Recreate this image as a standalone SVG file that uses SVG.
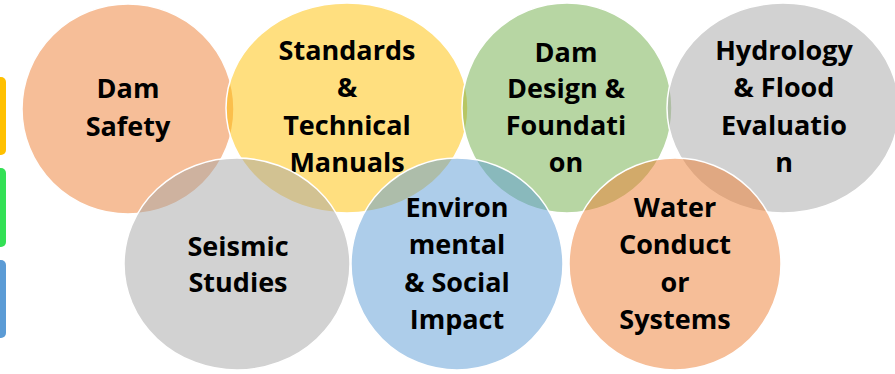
<svg xmlns="http://www.w3.org/2000/svg" width="895" height="374" viewBox="0 0 895 374">
<style>
.c{stroke:#ffffff;stroke-width:1.5;fill-opacity:0.5}
.t{font-family:"Open Sans","Liberation Sans",sans-serif;font-weight:700;font-size:27px;fill:#000000;text-anchor:middle}
</style>
<rect width="895" height="374" fill="#ffffff"/>
<g id="side-bars">
<rect x="-10" y="77" width="16" height="78" rx="5" fill="#FFC000"/>
<rect x="-10" y="168" width="16" height="79" rx="5" fill="#33E055"/>
<rect x="-10" y="260" width="16" height="78" rx="5" fill="#5B9BD5"/>
</g>
<g id="connectors"></g>
<g id="dam-safety">
<ellipse class="c" cx="128" cy="109" rx="106" ry="105" fill="#ED7D31"/>
<text class="t" x="128" y="98">Dam</text>
<text class="t" x="128" y="136">Safety</text>
</g>
<g id="standards">
<ellipse class="c" cx="347" cy="108" rx="121" ry="105" fill="#FFC000"/>
<text class="t" x="347" y="60">Standards</text>
<text class="t" x="347" y="97">&amp;</text>
<text class="t" x="347" y="135">Technical</text>
<text class="t" x="347" y="172">Manuals</text>
</g>
<g id="dam-design">
<ellipse class="c" cx="567" cy="108" rx="105" ry="105" fill="#70AD47"/>
<text class="t" x="566" y="62">Dam</text>
<text class="t" x="566" y="98">Design &amp;</text>
<text class="t" x="566" y="135">Foundati</text>
<text class="t" x="566" y="172">on</text>
</g>
<g id="hydrology">
<ellipse class="c" cx="783" cy="108" rx="116" ry="105" fill="#A5A5A5"/>
<text class="t" x="784" y="60">Hydrology</text>
<text class="t" x="784" y="97">&amp; Flood</text>
<text class="t" x="784" y="135">Evaluatio</text>
<text class="t" x="784" y="172">n</text>
</g>
<g id="seismic">
<ellipse class="c" cx="237" cy="264" rx="113" ry="106" fill="#A5A5A5"/>
<text class="t" x="238" y="256">Seismic</text>
<text class="t" x="238" y="292">Studies</text>
</g>
<g id="environmental">
<ellipse class="c" cx="457" cy="264" rx="106" ry="106" fill="#5B9BD5"/>
<text class="t" x="457" y="217">Environ</text>
<text class="t" x="457" y="254">mental</text>
<text class="t" x="457" y="292">&amp; Social</text>
<text class="t" x="457" y="329">Impact</text>
</g>
<g id="water">
<ellipse class="c" cx="675" cy="264" rx="106" ry="106" fill="#ED7D31"/>
<text class="t" x="675" y="217">Water</text>
<text class="t" x="675" y="254">Conduct</text>
<text class="t" x="675" y="292">or</text>
<text class="t" x="675" y="329">Systems</text>
</g>
</svg>
